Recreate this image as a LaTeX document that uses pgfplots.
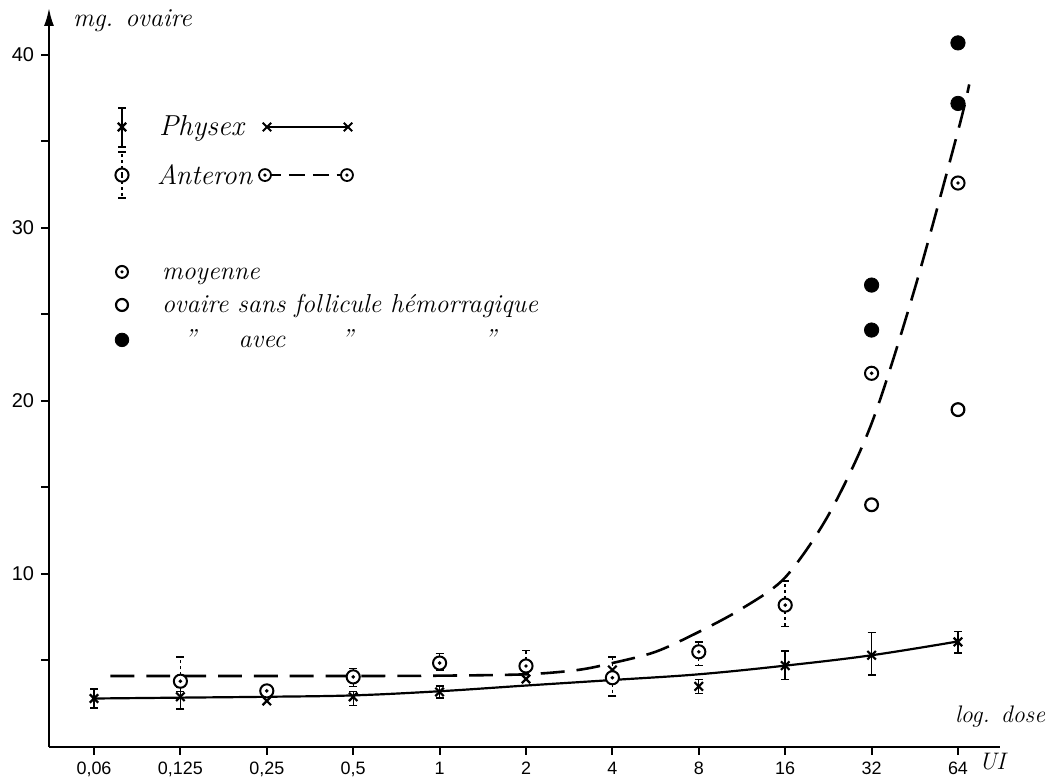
\documentclass[border=0pt]{standalone}
\usepackage{fontspec}
\setsansfont{Liberation Sans}
\usepackage{pgfplots}
\pgfplotsset{compat=1.18}
\usetikzlibrary{arrows.meta}

% circle with a dot in the middle (Anteron mean)
\pgfdeclareplotmark{odot}{%
  \pgfpathcircle{\pgfpointorigin}{\pgfplotmarksize}%
  \pgfusepathqfillstroke
  \begin{pgfscope}%
  \pgfsetfillcolor{black}%
  \pgfpathcircle{\pgfpointorigin}{0.3\pgfplotmarksize}%
  \pgfusepathqfill
  \end{pgfscope}}

\pgfplotsset{
  errP/.style={error bars/y dir=both, error bars/y explicit,
    error bars/error bar style={line width=0.7pt},
    error bars/error mark options={rotate=90, mark size=2pt, line width=0.7pt}},
  errA/.style={error bars/y dir=both, error bars/y explicit,
    error bars/error bar style={line width=0.7pt, dash pattern=on 1.5pt off 1.5pt},
    error bars/error mark options={solid, rotate=90, mark size=2pt, line width=0.7pt}},
}

\begin{document}
\begin{tikzpicture}
\begin{axis}[
  scale only axis, width=475.5bp, height=369.5bp,
  xmin=-0.521, xmax=10.486, ymin=0, ymax=42.72,
  axis x line=bottom, axis y line=left,
  axis line style={line width=1.1pt},
  x axis line style={-},
  y axis line style={-{Latex[length=9pt,width=5pt]}},
  xtick={0,1,...,10},
  xticklabels={{0,06},{0,125},{0,25},{0,5},1,2,4,8,16,32,64},
  ytick={5,10,...,40},
  yticklabels={,10,,20,,30,,40},
  tick align=outside, major tick length=4pt,
  tick style={line width=1pt, black},
  xticklabel style={font=\sffamily\fontsize{9}{10}\selectfont},
  yticklabel style={font=\sffamily\fontsize{10}{11}\selectfont},
  clip=false,
]
% fitted curves
\addplot[black, line width=1.1pt, smooth, tension=0.6] coordinates {
  (0,2.8) (1,2.85) (2,2.9) (3,2.98) (4,3.22) (5,3.55) (6,3.87) (7,4.2) (8,4.7) (9,5.3) (10,6.1)};
\addplot[black, line width=1.3pt, smooth, tension=0.5, dash pattern=on 12pt off 6pt] coordinates {
  (0.19,4.1) (1,4.1) (2,4.1) (3,4.1) (4,4.12) (5,4.2) (5.6,4.45) (6,4.85) (6.5,5.5)
  (7,6.65) (7.5,8.0) (8,9.8) (8.5,13.4) (9,18.7) (9.5,26.5) (10,35.6) (10.13,38.3)};

% Physex
\addplot[black, only marks, mark=x, mark size=3pt, mark options={line width=1.1pt}, errP] coordinates {
  (0,2.8) += (0,0.55) -= (0,0.55)
  (1,2.9) += (0,0.55) -= (0,0.7)
  (3,2.9) += (0,0.3) -= (0,0.5)
  (4,3.18) += (0,0.35) -= (0,0.35)
  (7,3.5) += (0,0.4) -= (0,0.4)
  (8,4.7) += (0,0.85) -= (0,0.8)
  (9,5.3) += (0,1.3) -= (0,1.15)
  (10,6.07) += (0,0.6) -= (0,0.65)};
\addplot[black, only marks, mark=x, mark size=3pt, mark options={line width=1.1pt}] coordinates {
  (2,2.66) (5,3.93) (6,4.45)};

% Anteron, mean
\addplot[black, only marks, mark=odot, mark size=3.3pt, mark options={fill=white, line width=1pt}, errA] coordinates {
  (1,3.8) += (0,1.4) -= (0,0.6)
  (3,4.05) += (0,0.5) -= (0,0.55)
  (4,4.85) += (0,0.55) -= (0,0.4)
  (5,4.68) += (0,0.9) -= (0,0.3)
  (6,4.0) += (0,1.2) -= (0,1.05)
  (7,5.5) += (0,0.57) -= (0,0.8)
  (8,8.2) += (0,1.4) -= (0,1.25)};
\addplot[black, only marks, mark=odot, mark size=3.3pt, mark options={fill=white, line width=1pt}] coordinates {
  (2,3.24) (9,21.6) (10,32.6)};
% ovary without haemorrhagic follicle
\addplot[black, only marks, mark=*, mark size=3.2pt, mark options={fill=white, line width=1.1pt}] coordinates {
  (9,14.0) (10,19.5)};
% with haemorrhagic follicle
\addplot[black, only marks, mark=*, mark size=3.6pt] coordinates {
  (9,26.7) (9,24.1) (10,40.7) (10,37.2)};

% legend
\addplot[black, only marks, mark=x, mark size=3pt, mark options={line width=1.1pt}, forget plot, errP] coordinates {
  (0.324,35.84) += (0,1.10) -= (0,1.16)};
\addplot[black, line width=1pt, mark=x, mark size=3pt, forget plot] coordinates {
  (2.002,35.84) (2.940,35.84)};
\addplot[black, only marks, mark=o, mark size=3.3pt, mark options={fill=white, line width=1pt}, forget plot, errA] coordinates {
  (0.324,33.06) += (0,1.33) -= (0,1.33)};
\addplot[black, line width=1.1pt, dash pattern=on 8pt off 4pt, mark=odot, mark size=3pt,
  mark options={solid, fill=white, line width=0.9pt}, forget plot] coordinates {
  (1.979,33.06) (2.928,33.06)};
\addplot[black, only marks, mark=odot, mark size=3pt, mark options={fill=white, line width=1pt}, forget plot] coordinates {(0.324,27.46)};
\addplot[black, only marks, mark=*, mark size=3pt, mark options={fill=white, line width=1.1pt}, forget plot] coordinates {(0.324,25.55)};
\addplot[black, only marks, mark=*, mark size=3.4pt, forget plot] coordinates {(0.324,23.53)};

\node[anchor=base west, font=\itshape\fontsize{14.5}{17}\selectfont] at (axis cs:0.671,35.32) {Physex};
\node[anchor=base west, font=\itshape\fontsize{14}{17}\selectfont] at (axis cs:0.648,32.54) {Anteron};
\node[anchor=base west, font=\itshape\fontsize{13}{15}\selectfont] at (axis cs:0.706,27.05) {moyenne};
\node[anchor=base west, font=\itshape\fontsize{13}{15}\selectfont] at (axis cs:0.706,25.14) {ovaire sans follicule hémorragique};
\node[anchor=base, font=\itshape\fontsize{13}{15}\selectfont] at (axis cs:1.111,23.12) {''};
\node[anchor=base, font=\itshape\fontsize{13}{15}\selectfont] at (axis cs:1.944,23.12) {avec};
\node[anchor=base, font=\itshape\fontsize{13}{15}\selectfont] at (axis cs:2.928,23.12) {''};
\node[anchor=base, font=\itshape\fontsize{13}{15}\selectfont] at (axis cs:4.583,23.12) {''};

% axis titles
\node[anchor=base west, font=\itshape\fontsize{13}{15}\selectfont] at (axis cs:-0.324,41.62) {mg. ovaire};
\node[anchor=base west, font=\itshape\fontsize{12}{14}\selectfont] at (axis cs:9.884,1.387) {log. dose};
\node[anchor=base west, font=\itshape\fontsize{12}{14}\selectfont] at (axis cs:10.162,-1.33) {UI};

\coordinate (bbsw) at (axis cs:-1.088,-1.792);
\coordinate (bbne) at (axis cs:11.204,43.18);
\end{axis}
\pgfresetboundingbox
\path[use as bounding box] (bbsw) rectangle (bbne);
\end{tikzpicture}
\end{document}
